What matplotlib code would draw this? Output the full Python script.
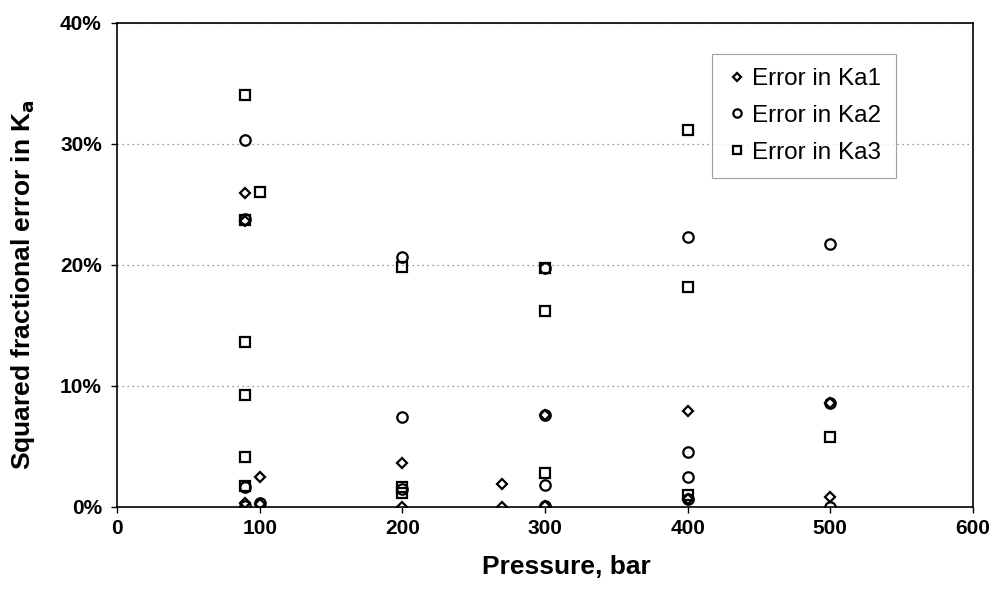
import matplotlib.pyplot as plt
import matplotlib.ticker as mtick

plt.rcParams['font.family'] = ['Liberation Sans', 'DejaVu Sans']

# Ka1 (diamonds)
ka1_x = [90, 90, 90, 100, 100, 200, 200, 270, 270, 300, 300, 400, 400, 500, 500]
ka1_y = [25.9, 23.6, 0.3, 2.5, 0.2, 3.6, 0.0, 1.9, 0.0, 7.6, 0.1, 7.9, 0.6, 8.6, 0.8]

# Ka2 (circles)
ka2_x = [90, 90, 90, 90, 100, 200, 200, 200, 300, 300, 300, 300, 400, 400, 400, 400, 500, 500, 500]
ka2_y = [30.3, 23.8, 1.6, 0.1, 0.3, 20.6, 7.4, 1.5, 19.7, 7.6, 1.8, 0.1, 22.3, 4.5, 2.5, 0.6, 21.7, 8.6, 0.0]

# Ka3 (squares)
ka3_x = [90, 90, 90, 90, 90, 90, 100, 200, 200, 200, 300, 300, 300, 400, 400, 400, 500]
ka3_y = [34.0, 23.7, 13.6, 9.2, 4.1, 1.7, 26.0, 19.8, 1.6, 1.1, 19.7, 16.2, 2.8, 31.1, 18.2, 1.0, 5.8]

fig = plt.figure(figsize=(10.01, 5.99), dpi=100)
ax = fig.add_axes([0.117, 0.154, 0.855, 0.808])

ax.plot(ka1_x, ka1_y, linestyle='none', marker='D', markersize=5.5,
        markerfacecolor='white', markeredgecolor='black', markeredgewidth=1.6,
        label='Error in Ka1')
ax.plot(ka2_x, ka2_y, linestyle='none', marker='o', markersize=7.5,
        markerfacecolor='none', markeredgecolor='black', markeredgewidth=1.6,
        label='Error in Ka2')
ax.plot(ka3_x, ka3_y, linestyle='none', marker='s', markersize=7.5,
        markerfacecolor='none', markeredgecolor='black', markeredgewidth=1.6,
        label='Error in Ka3')

ax.set_xlim(0, 600)
ax.set_ylim(0, 40)
ax.set_xticks(range(0, 601, 100))
ax.set_yticks(range(0, 41, 10))
ax.yaxis.set_major_formatter(mtick.PercentFormatter(decimals=0))
ax.yaxis.grid(True, linestyle=(0, (1, 3)), color='#777777', linewidth=0.9)
ax.set_axisbelow(True)

for s in ax.spines.values():
    s.set_linewidth(1.2)
    s.set_color('black')

ax.tick_params(axis='both', labelsize=15, length=4, width=1, direction='out')
ax.tick_params(axis='x', pad=5)
ax.tick_params(axis='y', pad=7)
for lbl in ax.get_xticklabels() + ax.get_yticklabels():
    lbl.set_fontweight('bold')

ax.set_xlabel('Pressure, bar', fontsize=19, fontweight='bold')
ax.set_ylabel(r'Squared fractional error in K$_\mathbf{a}$', fontsize=19,
              fontweight='bold')
ax.xaxis.set_label_coords(0.525, -0.1)
ax.yaxis.set_label_coords(-0.094, 0.46)

leg = ax.legend(loc='upper left', bbox_to_anchor=(0.695, 0.936), fontsize=17.5,
                frameon=True, fancybox=False, edgecolor='#888888',
                handletextpad=0.15, labelspacing=0.6, borderpad=0.6,
                handlelength=0.9, markerscale=0.8, borderaxespad=0)
leg.get_frame().set_linewidth(0.8)

fig.savefig('out.png', dpi=100)
